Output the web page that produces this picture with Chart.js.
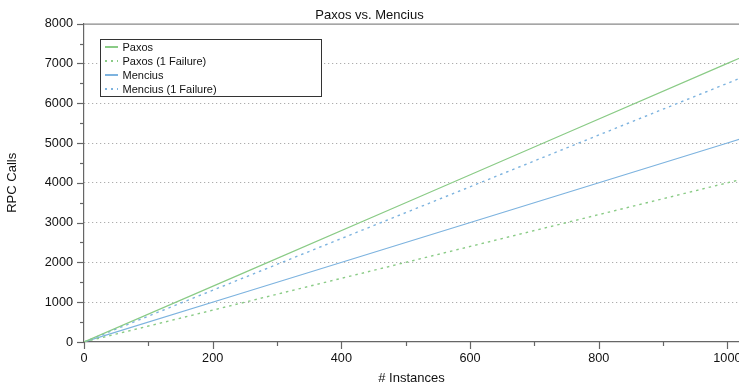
<!DOCTYPE html>
<html>
<head>
<meta charset="utf-8">
<script src="https://cdn.jsdelivr.net/npm/chart.js@4/dist/chart.umd.min.js"></script>
<style>
  html, body { margin: 0; padding: 0; background: #fff; }
  #wrap { width: 739px; height: 388px; position: relative; }
</style>
</head>
<body>
<div id="wrap"><canvas id="c" width="739" height="388"></canvas></div>
<script>
// ---- data ----
const chartTitle = "Paxos vs. Mencius";
const xTitle = "# Instances";
const yTitle = "RPC Calls";
const instances = [0, 250, 500, 750, 1000, 1024];
const paxos = [0, 1750, 3500, 5250, 7000, 7168];
const paxosFailure = [0, 1000, 2000, 3000, 4000, 4096];
const mencius = [0, 1250, 2500, 3750, 5000, 5120];
const menciusFailure = [0, 1625, 3250, 4875, 6500, 6656];
const seriesLabels = ["Paxos", "Paxos (1 Failure)", "Mencius", "Mencius (1 Failure)"];
const yMajorTicks = [0, 1000, 2000, 3000, 4000, 5000, 6000, 7000, 8000];
const xMajorTicks = [0, 200, 400, 600, 800, 1000];

const GREEN = '#8acb86';
const BLUE = '#7db3df';
const FONT = '"Liberation Sans", Arial, Helvetica, sans-serif';

function pts(ys) { return instances.map((x, i) => ({ x: x, y: ys[i] })); }

const datasets = [
  { label: seriesLabels[0], data: pts(paxos), borderColor: GREEN, borderWidth: 1.2, borderDash: [] },
  { label: seriesLabels[1], data: pts(paxosFailure), borderColor: GREEN, borderWidth: 1.4, borderDash: [2.5, 4] },
  { label: seriesLabels[2], data: pts(mencius), borderColor: BLUE, borderWidth: 1.2, borderDash: [] },
  { label: seriesLabels[3], data: pts(menciusFailure), borderColor: BLUE, borderWidth: 1.4, borderDash: [2.5, 4] }
].map(d => Object.assign(d, { pointRadius: 0, fill: false, tension: 0 }));

const extras = {
  id: 'extras',
  afterDraw(chart) {
    const ctx = chart.ctx, a = chart.chartArea;
    const xs = chart.scales.x, ys = chart.scales.y;
    ctx.save();
    // top frame line
    ctx.strokeStyle = '#888'; ctx.lineWidth = 1.2;
    ctx.beginPath(); ctx.moveTo(a.left, a.top + 0.5); ctx.lineTo(a.right, a.top + 0.5); ctx.stroke();
    // tick marks
    ctx.strokeStyle = '#666'; ctx.lineWidth = 1.2;
    for (let v = 0; v <= 8000; v += 500) {
      const py = Math.round(ys.getPixelForValue(v)) + 0.5;
      const len = (v % 1000 === 0) ? 7 : 4;
      ctx.beginPath(); ctx.moveTo(a.left - len, py); ctx.lineTo(a.left, py); ctx.stroke();
    }
    for (let v = 0; v <= 1000; v += 100) {
      const px = Math.round(xs.getPixelForValue(v)) + 0.5;
      const len = (v % 200 === 0) ? 7 : 4;
      ctx.beginPath(); ctx.moveTo(px, a.bottom); ctx.lineTo(px, a.bottom + len); ctx.stroke();
    }
    // legend box
    const bx = 100.5, by = 39.5, bw = 221, bh = 57;
    ctx.fillStyle = '#fff'; ctx.fillRect(bx, by, bw, bh);
    ctx.strokeStyle = '#333'; ctx.lineWidth = 1;
    ctx.strokeRect(bx, by, bw, bh);
    ctx.font = '11px ' + FONT;
    ctx.textBaseline = 'middle';
    ctx.textAlign = 'left';
    chart.data.datasets.forEach((d, i) => {
      const y = 47 + i * 14;
      ctx.strokeStyle = d.borderColor;
      ctx.lineWidth = 2;
      ctx.setLineDash(d.borderDash && d.borderDash.length ? [2, 4] : []);
      ctx.beginPath(); ctx.moveTo(105, y); ctx.lineTo(118, y); ctx.stroke();
      ctx.setLineDash([]);
      ctx.fillStyle = '#111';
      ctx.fillText(d.label, 122.5, y + 0.5);
    });
    ctx.restore();
  }
};

new Chart(document.getElementById('c'), {
  type: 'line',
  data: { datasets: datasets },
  plugins: [extras],
  options: {
    responsive: false,
    animation: false,
    events: [],
    layout: { padding: { left: 0, right: 0, top: 0, bottom: 0 } },
    plugins: {
      legend: { display: false },
      tooltip: { enabled: false },
      title: {
        display: true, text: chartTitle, color: '#111',
        font: { family: FONT, size: 13, weight: 'normal' },
        padding: { top: 8, bottom: 0 }
      }
    },
    scales: {
      x: {
        type: 'linear', min: 0, max: 1018,
        afterBuildTicks(s) { s.ticks = xMajorTicks.map(v => ({ value: v })); },
        afterFit(s) { s.height = 46; s.paddingRight = 0; s.paddingLeft = 0; },
        grid: { display: false, drawTicks: false },
        border: { display: true, color: '#666', width: 1.2 },
        ticks: { color: '#111', font: { family: FONT, size: 12.7 }, padding: 9, maxRotation: 0, autoSkip: false,
                 callback: (v) => String(v) },
        title: { display: true, text: xTitle, color: '#111', font: { family: FONT, size: 13 }, padding: { top: 6, bottom: 2 } }
      },
      y: {
        type: 'linear', min: 0, max: 8000,
        afterBuildTicks(s) { s.ticks = yMajorTicks.map(v => ({ value: v })); },
        afterFit(s) { s.width = 84; },
        grid: {
          drawTicks: false,
          color: (c) => (c.tick && c.tick.value > 0 && c.tick.value < 8000) ? '#9a9a9a' : 'rgba(0,0,0,0)',
          lineWidth: 1
        },
        border: { display: true, color: '#666', width: 1.2, dash: [1, 3] },
        ticks: { color: '#111', font: { family: FONT, size: 12.7 }, padding: 11, callback: (v) => String(v) },
        title: { display: true, text: yTitle, color: '#111', font: { family: FONT, size: 13 }, padding: { top: 5, bottom: 0 } }
      }
    }
  }
});
</script>
</body>
</html>
